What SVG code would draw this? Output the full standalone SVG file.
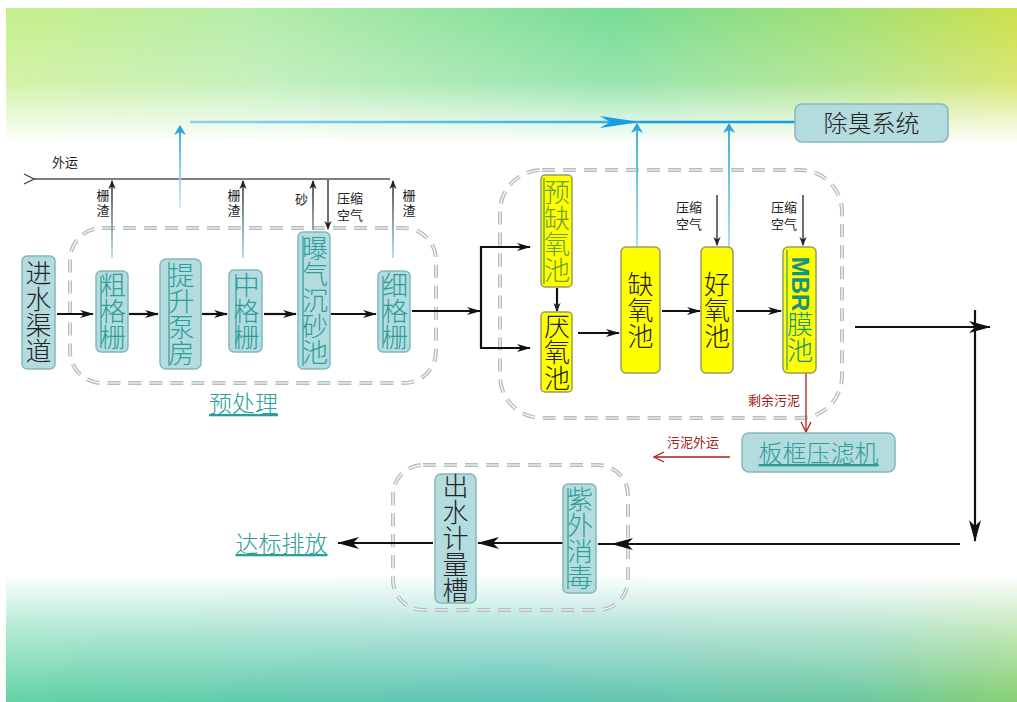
<svg xmlns="http://www.w3.org/2000/svg" width="1017" height="702" viewBox="0 0 1017 702">
<defs>
<linearGradient id="topH" x1="0" y1="0" x2="1" y2="0">
<stop offset="0" stop-color="#c6ef8a"/><stop offset="0.25" stop-color="#b4ecaa"/><stop offset="0.6" stop-color="#76dc96"/><stop offset="0.85" stop-color="#a6e070"/><stop offset="1" stop-color="#cde04a"/>
</linearGradient>
<linearGradient id="topFade" x1="0" y1="0" x2="0" y2="1">
<stop offset="0" stop-color="#fff" stop-opacity="0"/><stop offset="0.55" stop-color="#fff" stop-opacity="0.25"/><stop offset="1" stop-color="#fff" stop-opacity="1"/>
</linearGradient>
<linearGradient id="botH" x1="0" y1="0" x2="1" y2="0">
<stop offset="0" stop-color="#62d2a4"/><stop offset="0.5" stop-color="#5ec4b6"/><stop offset="0.85" stop-color="#6cc8a0"/><stop offset="1" stop-color="#86d070"/>
</linearGradient>
<linearGradient id="botFade" x1="0" y1="0" x2="0" y2="1">
<stop offset="0" stop-color="#fff" stop-opacity="1"/><stop offset="0.45" stop-color="#fff" stop-opacity="0.5"/><stop offset="1" stop-color="#fff" stop-opacity="0"/>
</linearGradient>
<linearGradient id="upG" gradientUnits="userSpaceOnUse" x1="0" y1="258" x2="0" y2="182">
<stop offset="0" stop-color="#a8daea"/><stop offset="1" stop-color="#333"/>
</linearGradient>
<linearGradient id="blueV" gradientUnits="userSpaceOnUse" x1="0" y1="250" x2="0" y2="125">
<stop offset="0" stop-color="#a6dcef"/><stop offset="1" stop-color="#2aa6e0"/>
</linearGradient>
<linearGradient id="blueV2" gradientUnits="userSpaceOnUse" x1="0" y1="210" x2="0" y2="128">
<stop offset="0" stop-color="#cfeef8"/><stop offset="1" stop-color="#2aa6e0"/>
</linearGradient>
<linearGradient id="blueH" gradientUnits="userSpaceOnUse" x1="190" y1="0" x2="795" y2="0">
<stop offset="0" stop-color="#8fd2f0"/><stop offset="1" stop-color="#1a9ee0"/>
</linearGradient>
<marker id="ah" viewBox="0 0 14 8" markerWidth="14" markerHeight="8" refX="13" refY="4" orient="auto" markerUnits="userSpaceOnUse">
<path d="M0,0 L14,4 L0,8 L4,4 z" fill="#111"/>
</marker>
<marker id="ahS" viewBox="0 0 10 8" markerWidth="9" markerHeight="8" refX="9" refY="4" orient="auto" markerUnits="userSpaceOnUse">
<path d="M0,0 L10,4 L0,8 L3,4 z" fill="#222"/>
</marker>
<marker id="ahOpen" viewBox="0 0 12 12" markerWidth="12" markerHeight="12" refX="1" refY="6" orient="auto" markerUnits="userSpaceOnUse">
<path d="M11,1 L1,6 L11,11" fill="none" stroke="#444" stroke-width="1.3"/>
</marker>
<marker id="ahB" viewBox="0 0 10 12" markerWidth="10" markerHeight="12" refX="9" refY="6" orient="auto" markerUnits="userSpaceOnUse">
<path d="M0,0 L10,6 L0,12 L3,6 z" fill="#2aa6e0"/>
</marker>
<marker id="ahBig" viewBox="0 0 40 12" markerWidth="40" markerHeight="12" refX="40" refY="6" orient="auto" markerUnits="userSpaceOnUse">
<path d="M0,0 L40,6 L0,12 L10,6 z" fill="#1a9ee0"/>
</marker>
<marker id="ahR" viewBox="0 0 12 12" markerWidth="12" markerHeight="12" refX="11" refY="6" orient="auto" markerUnits="userSpaceOnUse">
<path d="M1,1 L11,6 L1,11" fill="none" stroke="#b02020" stroke-width="1.3"/>
</marker>
<marker id="ahL" viewBox="0 0 22 12" markerWidth="22" markerHeight="12" refX="21" refY="6" orient="auto" markerUnits="userSpaceOnUse">
<path d="M0,0 L22,6 L0,12 L6,6 z" fill="#111"/>
</marker>
</defs>
<style>
.cjk{font-family:"Noto Sans CJK SC","Noto Sans",sans-serif;}
.box{fill:#b4dcdf;stroke:#84b8b8;stroke-width:1.5;}
.ybox{fill:#ffff00;stroke:#9a9a60;stroke-width:1.5;}
.vt{writing-mode:vertical-rl;text-anchor:middle;font-size:26px;font-weight:300;}
.vs{writing-mode:vertical-rl;text-anchor:middle;font-size:13px;letter-spacing:2px;fill:#222;}
.dk{fill:#222;}
.tl{fill:#2a9e98;}
.ul{stroke:#2a9e98;stroke-width:1.2;}
.frame{fill:none;stroke:#b4bebe;stroke-width:4;stroke-dasharray:13 8;}
.frameIn{fill:none;stroke:#fff;stroke-width:1.2;stroke-dasharray:13 8;}
.flow{stroke:#111;stroke-width:2.2;fill:none;}
.sm{font-size:13px;fill:#222;}
.red{fill:#a02020;font-size:13px;}
</style>
<rect x="0" y="0" width="1017" height="702" fill="#fff"/>
<rect x="6" y="8" width="1011" height="135" fill="url(#topH)"/>
<rect x="6" y="8" width="1011" height="136" fill="url(#topFade)"/>
<rect x="6" y="575" width="1011" height="127" fill="url(#botH)"/>
<rect x="6" y="574" width="1011" height="128" fill="url(#botFade)"/>

<g id="frames">
<rect class="frame" x="70" y="228" width="366" height="155" rx="32"/>
<rect class="frameIn" x="70" y="228" width="366" height="155" rx="32"/>
<rect class="frame" x="500" y="170" width="342" height="248" rx="42"/>
<rect class="frameIn" x="500" y="170" width="342" height="248" rx="42"/>
<rect class="frame" x="393" y="465" width="235" height="145" rx="30"/>
<rect class="frameIn" x="393" y="465" width="235" height="145" rx="30"/>
</g>

<g id="connectors">
<line x1="390" y1="179" x2="34" y2="179" stroke="#555" stroke-width="1.5" marker-end="url(#ahOpen)"/>
<line x1="112" y1="258" x2="112" y2="181" stroke="url(#upG)" stroke-width="1.6" marker-end="url(#ahS)"/>
<line x1="243" y1="258" x2="243" y2="181" stroke="url(#upG)" stroke-width="1.6" marker-end="url(#ahS)"/>
<line x1="313" y1="230" x2="313" y2="181" stroke="url(#upG)" stroke-width="1.6" marker-end="url(#ahS)"/>
<line x1="328" y1="180" x2="328" y2="229" stroke="#333" stroke-width="1.4" marker-end="url(#ahS)"/>
<line x1="393" y1="258" x2="393" y2="181" stroke="url(#upG)" stroke-width="1.6" marker-end="url(#ahS)"/>
<line x1="180" y1="208" x2="180" y2="126" stroke="url(#blueV2)" stroke-width="1.8" marker-end="url(#ahB)"/>
<line x1="190" y1="122" x2="640" y2="122" stroke="url(#blueH)" stroke-width="2.5" marker-end="url(#ahBig)"/>
<line x1="640" y1="122" x2="795" y2="122" stroke="#1a9ee0" stroke-width="2.5"/>
<line x1="637" y1="247" x2="637" y2="124" stroke="url(#blueV)" stroke-width="1.8" marker-end="url(#ahB)"/>
<line x1="729" y1="247" x2="729" y2="124" stroke="url(#blueV)" stroke-width="1.8" marker-end="url(#ahB)"/>
<line x1="57" y1="314" x2="93" y2="314" class="flow" marker-end="url(#ah)"/>
<line x1="129" y1="314" x2="158" y2="314" class="flow" marker-end="url(#ah)"/>
<line x1="202" y1="314" x2="227" y2="314" class="flow" marker-end="url(#ah)"/>
<line x1="264" y1="314" x2="296" y2="314" class="flow" marker-end="url(#ah)"/>
<line x1="331" y1="314" x2="376" y2="314" class="flow" marker-end="url(#ah)"/>
<line x1="412" y1="311" x2="480" y2="311" class="flow" marker-end="url(#ah)"/>
<polyline points="530,247 481,247 481,348 530,348" class="flow" stroke-width="2"/>
<line x1="481" y1="247" x2="530" y2="247" class="flow" stroke-width="2" marker-end="url(#ah)"/>
<line x1="481" y1="348" x2="530" y2="348" class="flow" stroke-width="2" marker-end="url(#ah)"/>
<line x1="557" y1="288" x2="557" y2="311" class="flow" stroke-width="1.8" marker-end="url(#ahS)"/>
<line x1="578" y1="333" x2="619" y2="333" class="flow" stroke-width="2" marker-end="url(#ah)"/>
<line x1="662" y1="311" x2="700" y2="311" class="flow" stroke-width="2" marker-end="url(#ah)"/>
<line x1="736" y1="311" x2="781" y2="311" class="flow" stroke-width="2" marker-end="url(#ah)"/>
<line x1="717" y1="195" x2="717" y2="245" stroke="#333" stroke-width="1.4" marker-end="url(#ahS)"/>
<line x1="803" y1="195" x2="803" y2="245" stroke="#333" stroke-width="1.4" marker-end="url(#ahS)"/>
<line x1="855" y1="327" x2="990" y2="327" class="flow" stroke-width="2" marker-end="url(#ahL)"/>
<line x1="975" y1="310" x2="975" y2="541" class="flow" stroke-width="2" marker-end="url(#ahL)"/>
<line x1="960" y1="544" x2="598" y2="544" class="flow" stroke-width="2.2"/>
<line x1="700" y1="544" x2="612" y2="544" class="flow" stroke-width="2.2" marker-end="url(#ahL)"/>
<line x1="563" y1="543" x2="478" y2="543" class="flow" stroke-width="1.6" marker-end="url(#ahL)"/>
<line x1="433" y1="543" x2="338" y2="543" class="flow" stroke-width="1.6" marker-end="url(#ahL)"/>
<line x1="806" y1="373" x2="806" y2="432" stroke="#b02020" stroke-width="1.3" marker-end="url(#ahR)"/>
<line x1="730" y1="457" x2="654" y2="457" stroke="#b02020" stroke-width="1.3" marker-end="url(#ahR)"/>
</g>

<g id="labels" class="cjk">
<text x="52" y="167" class="sm">外运</text>
<text x="103" y="204" class="vs">栅渣</text>
<text x="234" y="204" class="vs">栅渣</text>
<text x="409" y="204" class="vs">栅渣</text>
<text x="295" y="204" class="sm">砂</text>
<text x="337" y="203" class="sm">压缩<tspan x="337" dy="17">空气</tspan></text>
<text x="676" y="212" class="sm">压缩<tspan x="676" dy="17">空气</tspan></text>
<text x="771" y="212" class="sm">压缩<tspan x="771" dy="17">空气</tspan></text>
<text x="748" y="405" class="red">剩余污泥</text>
<text x="667" y="447" class="red">污泥外运</text>
<text x="243.5" y="412" text-anchor="middle" font-size="23" font-weight="300" class="tl" text-decoration="underline">预处理</text>
<text x="281.5" y="552" text-anchor="middle" font-size="23" font-weight="300" class="tl" text-decoration="underline">达标排放</text>
</g>

<g id="n-jinshui" class="cjk"><rect class="box" x="22" y="256" width="33" height="113" rx="5"/><text class="vt dk" x="38.5" y="312.5">进水渠道</text></g>
<g id="n-cugeshan" class="cjk"><rect class="box" x="96" y="271" width="32" height="81" rx="5"/><line class="ul" x1="101" y1="276" x2="101" y2="348"/><text class="vt tl" x="113" y="311.5">粗格栅</text></g>
<g id="n-tisheng" class="cjk"><rect class="box" x="160" y="259" width="41" height="110" rx="6"/><line class="ul" x1="169" y1="262" x2="169" y2="366"/><text class="vt tl" x="181.5" y="314">提升泵房</text></g>
<g id="n-zhonggeshan" class="cjk"><rect class="box" x="229" y="270" width="33" height="82" rx="5"/><line class="ul" x1="236" y1="274" x2="236" y2="349"/><text class="vt tl" x="246.5" y="311">中格栅</text></g>
<g id="n-chensha" class="cjk"><rect class="box" x="298" y="232" width="32" height="137" rx="5"/><line class="ul" x1="303" y1="236" x2="303" y2="366"/><text class="vt tl" x="315" y="300.5">曝气沉砂池</text></g>
<g id="n-xigeshan" class="cjk"><rect class="box" x="378" y="271" width="32" height="81" rx="5"/><line class="ul" x1="383" y1="276" x2="383" y2="348"/><text class="vt tl" x="395" y="311.5">细格栅</text></g>

<g id="n-yuquyang" class="cjk"><rect class="ybox" x="541" y="175" width="31" height="112" rx="4"/><line x1="544" y1="178" x2="544" y2="284" stroke="#3aa040" stroke-width="1.2"/><text class="vt" fill="#6a9c3c" x="557" y="231">预缺氧池</text></g>
<g id="n-yanyang" class="cjk"><rect class="ybox" x="541" y="312" width="31" height="80" rx="4"/><text class="vt dk" x="557" y="352">厌氧池</text></g>
<g id="n-queyang" class="cjk"><rect class="ybox" x="621" y="247" width="39" height="126" rx="5"/><text class="vt dk" x="640.5" y="310">缺氧池</text></g>
<g id="n-haoyang" class="cjk"><rect class="ybox" x="701" y="247" width="32" height="126" rx="5"/><text class="vt dk" x="717" y="310">好氧池</text></g>
<g id="n-mbr" class="cjk"><rect class="ybox" x="783" y="247" width="33" height="126" rx="5"/><line x1="787" y1="250" x2="787" y2="370" stroke="#2aa070" stroke-width="1.2"/><text class="vt" fill="#16927e" x="800" y="310"><tspan font-family="Liberation Sans,sans-serif" font-weight="bold" font-size="24">MBR</tspan>膜池</text></g>

<g id="n-chuchou" class="cjk"><rect class="box" x="795" y="104" width="153" height="38" rx="7"/><text x="871.5" y="131.5" text-anchor="middle" font-size="24" font-weight="300" class="dk">除臭系统</text></g>
<g id="n-bankuang" class="cjk"><rect class="box" x="742" y="433" width="153" height="39" rx="7"/><text x="818.5" y="462" text-anchor="middle" font-size="24" font-weight="300" class="tl" text-decoration="underline">板框压滤机</text></g>
<g id="n-ziwai" class="cjk"><rect class="box" x="563" y="484" width="33" height="109" rx="5"/><line class="ul" x1="568" y1="488" x2="568" y2="589"/><text class="vt tl" x="580" y="538.5">紫外消毒</text></g>
<g id="n-chushui" class="cjk"><rect class="box" x="435" y="474" width="41" height="129" rx="6"/><text class="vt dk" x="455.5" y="538.5">出水计量槽</text></g>
</svg>
